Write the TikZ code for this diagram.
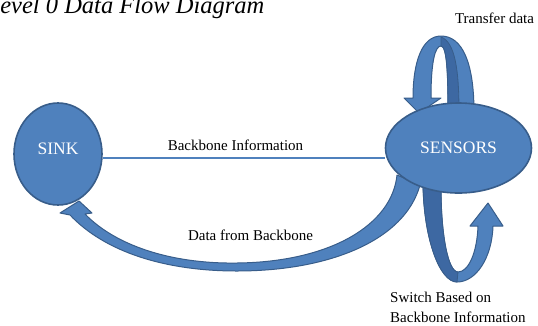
\documentclass[tikz,border=0pt]{standalone}
\usepackage{fontspec}
\setmainfont{Liberation Serif}
\usetikzlibrary{shapes.geometric}
\pgfdeclarelayer{bg}
\pgfsetlayers{bg,main}
\definecolor{ofblue}{HTML}{4F81BD}
\definecolor{ofdark}{HTML}{3D68A2}
\definecolor{ofline}{HTML}{385D8A}
\begin{document}
\begin{tikzpicture}[x=1pt,y=-1pt,
  statenode/.style={ellipse, draw=ofline, line width=1.6pt, fill=ofblue, text=white,
    font=\fontsize{17.5}{20}\selectfont, inner sep=0pt},
  statelabel/.style={text=white, font=\fontsize{17.5}{20}\selectfont, inner sep=0pt},
  txt/.style={font=\fontsize{15}{20}\selectfont, inner sep=0pt, text=black},
  bbline/.style={draw=ofblue, line width=1.5pt},
  ribbon/.style={fill=ofblue, draw=ofline, line width=1pt, line join=round},
  ribbondark/.style={fill=ofdark, draw=ofline, line width=0.8pt, line join=round}]
\useasboundingbox (0,0) rectangle (538,325);

% title (cut at the top-left as in the reference)
\node[anchor=base west, inner sep=0pt, font=\fontsize{24.5}{28}\selectfont\itshape] (title) at (-13.5,13) {Level 0 Data Flow Diagram};

% states
\node[statenode, minimum width=88pt, minimum height=102pt] (sink) at (58,154) {};
\node[statelabel] (sinklabel) at ([yshift=5pt]sink.center) {SINK};
\node[statenode, minimum width=146pt, minimum height=90pt] (sensors) at (458.5,148) {SENSORS};

\begin{pgfonlayer}{bg}
% Backbone Information line
\draw[bbline] (sink.-5) -- (sink.-5 -| sensors.west);

% Transfer data loop (top)
\draw[ribbon] (413,98) -- (404,98) -- (419,113) -- (441,98) -- (431,98)
  .. controls (431,62) and (435,46) .. (441,46)
  .. controls (447,46) and (448,75) .. (448,112)
  -- (474,112)
  .. controls (474,62) and (462,36) .. (441,36)
  .. controls (422,36) and (413,62) .. (413,98) -- cycle;
\draw[ribbondark] (441,46) .. controls (447,46) and (448,75) .. (448,112)
  -- (459,112) .. controls (459,70) and (455,42) .. (441,37) -- cycle;

% Switch loop (bottom)
\draw[ribbon] (423,185)
  .. controls (424,240) and (440,282) .. (457,282)
  .. controls (476,282) and (492,258) .. (493,226)
  -- (503,226) -- (488,203) -- (470,226) -- (478,226)
  .. controls (477,254) and (468,272) .. (458,272)
  .. controls (448,272) and (441,235) .. (441,188) -- cycle;
\draw[ribbondark] (423,185)
  .. controls (424,240) and (440,282) .. (457,282)
  -- (458,272)
  .. controls (448,272) and (441,235) .. (441,188) -- cycle;

% Data from Backbone arrow
\draw[ribbon] (397,175)
  .. controls (392,225) and (330,262) .. (237,263)
  .. controls (170,264) and (115,245) .. (85,214)
  -- (92,213) -- (79,201) -- (60,213) -- (70,215)
  .. controls (105,252) and (165,271) .. (237,271)
  .. controls (330,271) and (405,240) .. (420,185) -- cycle;
\end{pgfonlayer}

% labels
\node[txt] (ltransfer) at (494.5,18) {Transfer data};
\node[txt] (lbackbone) at (235.5,145) {Backbone Information};
\node[txt] (ldata) at (250.5,235) {Data from Backbone};
\node[txt, anchor=west, align=left] (lswitch) at (390,307) {Switch Based on\\Backbone Information};
\end{tikzpicture}
\end{document}
